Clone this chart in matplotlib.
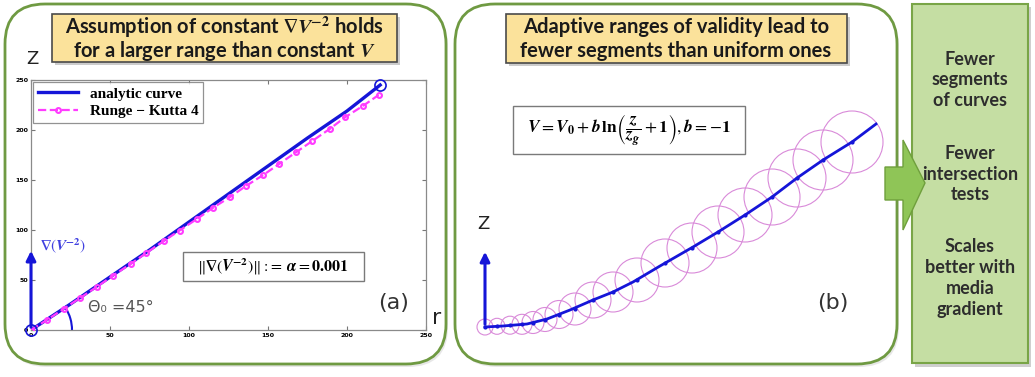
import numpy as np
import matplotlib.pyplot as plt
from matplotlib.patches import FancyBboxPatch, Polygon, Circle, Arc, Rectangle

plt.rcParams['mathtext.fontset'] = 'stix'

# ---------------------
# Dati pannello (a)
# ---------------------
ana_r = [0, 25, 50, 75, 100, 125, 150, 175, 200, 221]
ana_z = [0, 26, 53, 80, 108, 136, 164, 192, 219, 245]

rk4_r = [0, 10, 21, 31, 42, 52, 63, 73, 84, 94, 105, 115, 126, 136, 147,
         157, 168, 178, 189, 199, 210, 220]
rk4_z = [0, 10, 21.5, 32, 43.5, 54.5, 66, 77, 89, 99.5, 111, 122, 133, 144,
         155, 166, 178, 189, 201, 213, 224, 235]

ticks_a = [0, 50, 100, 150, 200, 250]

# ---------------------
# Dati pannello (b)
# ---------------------
curve_r = [0, 18, 42, 62, 85, 108, 128, 148, 175, 208, 233, 260, 287, 312, 338, 367, 391]
curve_z = [0, 1, 3, 8, 17, 27, 35, 45, 61, 80, 95, 112, 130, 149, 167, 185, 203]

circ_r = [0, 12, 25, 37, 48, 60, 74, 90, 108, 128, 152, 180, 207, 233, 260, 287, 312, 338, 367]
circ_z = [0, 0.7, 1.8, 2.7, 4.5, 7.5, 12.5, 18, 27, 35, 47, 64, 79, 95, 112, 130, 149, 167, 185]
circ_rad = [8, 8, 9, 10, 11, 12, 14, 16, 18, 20, 22, 24, 25, 26, 27, 28, 29, 30, 31]

bullets = ["Fewer\nsegments\nof curves", "Fewer\nintersection\ntests",
           "Scales\nbetter with\nmedia\ngradient"]
bullet_y = [80, 174, 278]

W, H = 1035, 377
BLUE = '#1515d8'
MAG = '#ff3cff'
fig = plt.figure(figsize=(W / 100, H / 100), dpi=100)

# sfondo (coordinate in pixel)
bg = fig.add_axes([0, 0, 1, 1], zorder=-1)
bg.set_xlim(0, W)
bg.set_ylim(H, 0)
bg.axis('off')

for x0, x1 in [(5, 446), (455, 897)]:
    bg.add_patch(FancyBboxPatch((x0 + 2, 6), x1 - x0, 361, boxstyle="round,pad=0,rounding_size=40",
                                fc='#d8d8d8', ec='none', alpha=0.6))
    bg.add_patch(FancyBboxPatch((x0, 4), x1 - x0, 360, boxstyle="round,pad=0,rounding_size=40",
                                fc='white', ec='#6f9a42', lw=2))

# ---------------------
# Pannello (a)
# ---------------------
ax = fig.add_axes([31 / W, 1 - 330 / H, 395 / W, 250 / H], zorder=2)
ax.plot(ana_r, ana_z, color=BLUE, lw=2.4, label="analytic curve", zorder=3)
ax.plot(rk4_r, rk4_z, color=MAG, ls='--', lw=1.6, marker='o', ms=3.5, mfc='none', mew=1.5,
        label="Runge − Kutta 4", zorder=4)
ax.plot([ana_r[0], ana_r[-1]], [ana_z[0], ana_z[-1]], ls='none', marker='o', ms=8,
        mfc='none', mec=BLUE, mew=1.2, zorder=5, clip_on=False)
ax.set_xlim(0, 250)
ax.set_ylim(0, 250)
ax.set_xticks(ticks_a)
ax.set_yticks(ticks_a)
ax.tick_params(direction='in', length=3, top=True, right=True, labelsize=4.5, pad=2,
               color='#777777')
for lab in ax.get_xticklabels() + ax.get_yticklabels():
    lab.set_fontweight('bold')
for s in ax.spines.values():
    s.set_color('#8a8a8a')
    s.set_linewidth(0.9)
leg = ax.legend(loc='upper left', borderaxespad=0.15, handlelength=2.6, fancybox=False,
                prop={'family': 'Liberation Serif', 'weight': 'bold', 'size': 11},
                borderpad=0.3, labelspacing=0.25, handletextpad=0.8)
leg.get_frame().set_edgecolor('#777777')
leg.get_frame().set_linewidth(0.9)

ax.annotate('', xy=(0, 82), xytext=(0, 0),
            arrowprops=dict(arrowstyle='-|>', color=BLUE, lw=2.2, mutation_scale=14),
            annotation_clip=False, zorder=6)
ax.text(6, 84, r"$\mathbf{\nabla}(\mathbfit{V}^{\mathbf{-2}})$", color='#4040e0', fontsize=11,
        va='center', ha='left')
ax.add_patch(Arc((0, 0), 2 * 41 / 1.58, 82, theta1=0, theta2=45, color=BLUE, lw=1.5))
ax.text(36, 22, "Θ₀ =45°", color='#555555', fontsize=11.5, va='center', ha='left')
ax.text(0.918, 0.108, "(a)", transform=ax.transAxes, fontsize=16, color='#333333',
        ha='center', va='center')

# ---------------------
# Pannello (b)
# ---------------------
axb = fig.add_axes([460 / W, 1 - 345 / H, 435 / W, 255 / H], zorder=2)
axb.set_facecolor('none')
axb.set_xlim(-25, 410)
axb.set_ylim(-18, 237)
axb.axis('off')
for cx, cz, rad in zip(circ_r, circ_z, circ_rad):
    axb.add_patch(Circle((cx, cz), rad, fill=False, ec='#d98ad9', lw=0.8))
axb.plot(curve_r, curve_z, color=BLUE, lw=2, zorder=3)
axb.plot(circ_r, circ_z, ls='none', marker='o', ms=2, color=BLUE, zorder=4)
axb.annotate('', xy=(0, 78), xytext=(0, 0),
             arrowprops=dict(arrowstyle='-|>', color=BLUE, lw=2.2, mutation_scale=14),
             annotation_clip=False, zorder=6)

# ---------------------
# Sovrapposizione: riquadri e testi
# ---------------------
top = fig.add_axes([0, 0, 1, 1], zorder=5)
top.set_facecolor('none')
top.set_xlim(0, W)
top.set_ylim(H, 0)
top.axis('off')

for x0, y0, x1, y1 in [(52, 14, 397, 62), (506, 14, 847, 63)]:
    top.add_patch(Rectangle((x0 + 3, y0 + 3), x1 - x0, y1 - y0, fc='#9a9a9a', ec='none', alpha=0.5))
    top.add_patch(Rectangle((x0, y0), x1 - x0, y1 - y0, fc='#fbe29b', ec='#4a4a4a', lw=1.2))

tkw = dict(family='Lato', weight='bold', fontsize=14.5, color='#1a1a1a', ha='center', va='center')
top.text(224, 27, r"Assumption of constant $\mathbf{\nabla}\mathbfit{V}^{\mathbf{-2}}$ holds", **tkw)
top.text(224, 51, r"for a larger range than constant $\mathbfit{V}$", **tkw)
top.text(676, 27, "Adaptive ranges of validity lead to", **tkw)
top.text(676, 51, "fewer segments than uniform ones", **tkw)

# riquadri delle formule
top.add_patch(Rectangle((183, 252), 181, 29, fc='white', ec='#7a7a7a', lw=1))
top.text(273, 266.5, r"$\Vert\mathbf{\nabla}(\mathbfit{V}^{\mathbf{-2}})\Vert{:}\!{=}\;\mathbfit{\alpha}=\mathbf{0.001}$",
         fontsize=11.5, ha='center', va='center')
top.add_patch(Rectangle((513, 106), 232, 48, fc='white', ec='#7a7a7a', lw=1))
top.text(629, 130, r"$\mathbfit{V}=\mathbfit{V}_{\mathbf{0}}+\mathbfit{b}\,\mathbf{ln}\left(\dfrac{\mathbfit{z}}{\mathbfit{z}_{\mathbfit{g}}}+\mathbf{1}\right),\mathbfit{b}=-\mathbf{1}$",
         fontsize=12.5, ha='center', va='center')

top.text(32, 59, "Z", fontsize=13, color='#222222', ha='center', va='center')
top.text(437, 318, "r", fontsize=16, color='#222222', ha='center', va='center')
top.text(483, 224, "Z", fontsize=13, color='#222222', ha='center', va='center')
top.text(833, 303, "(b)", fontsize=16, color='#333333', ha='center', va='center')

# riquadro verde a destra
top.add_patch(Rectangle((915, 7), 116, 360, fc='#a0a0a0', ec='none', alpha=0.5))
top.add_patch(Rectangle((912, 4), 116, 359, fc='#c5dea3', ec='#79a547', lw=1.5))
top.add_patch(Polygon([(885, 167), (903, 167), (903, 140), (925, 183), (903, 230), (903, 200), (885, 200)],
                      closed=True, fc='#8fc557', ec='#6f9f3c', lw=1))
for txt, yy in zip(bullets, bullet_y):
    top.text(970, yy, txt, family='Lato', weight='bold', fontsize=13, color='#2d2d2d',
             ha='center', va='center', linespacing=1.27)

fig.savefig("out.png", dpi=100)
